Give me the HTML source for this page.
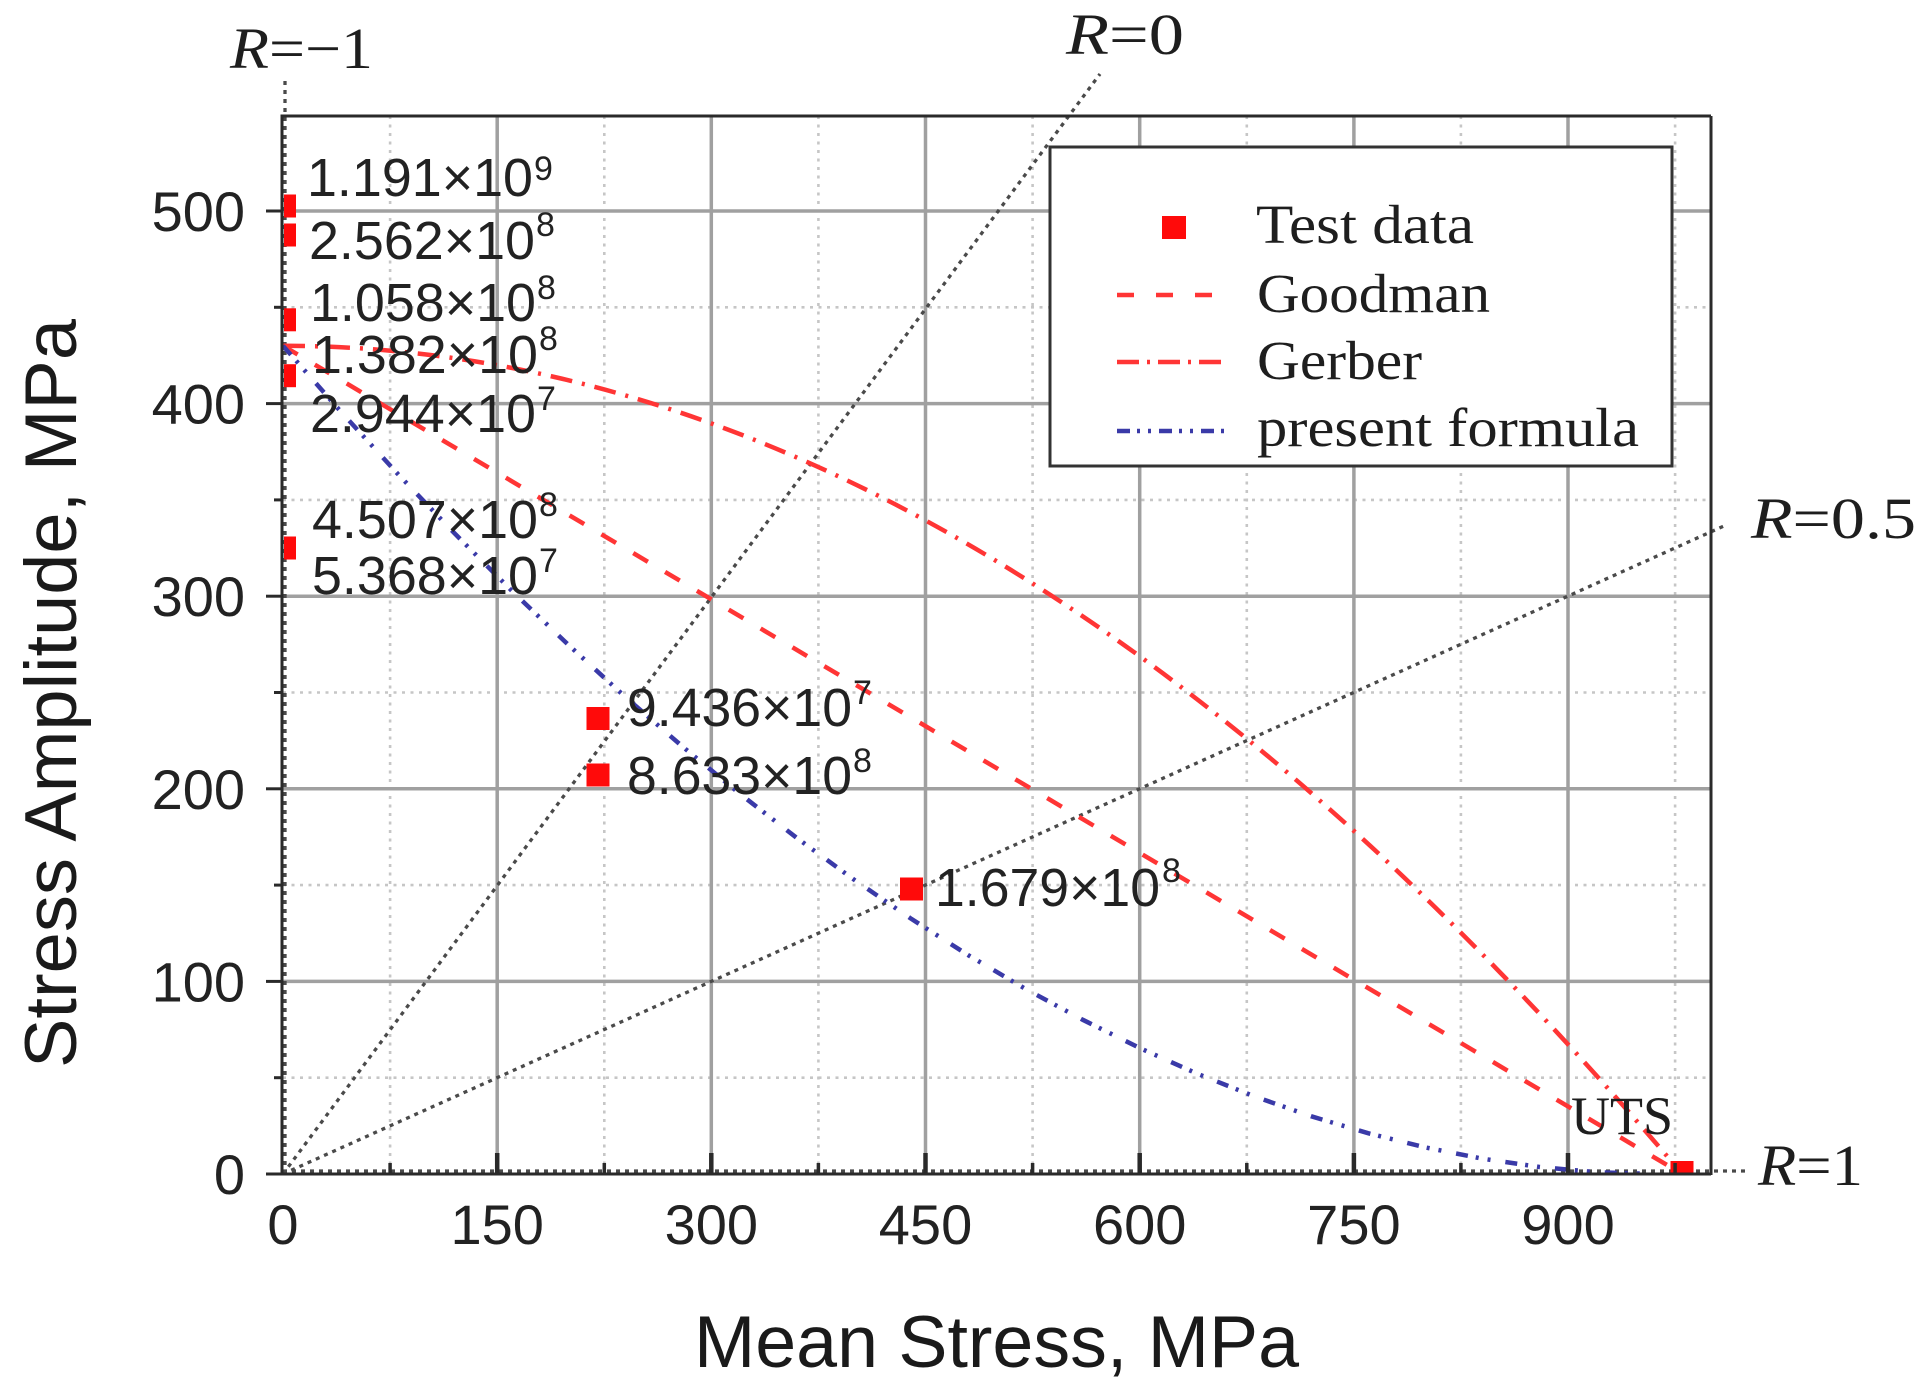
<!DOCTYPE html>
<html>
<head>
<meta charset="utf-8">
<style>
html,body{margin:0;padding:0;background:#fff;}
svg{display:block;}
</style>
</head>
<body>
<svg width="1931" height="1397" viewBox="0 0 1931 1397" xmlns="http://www.w3.org/2000/svg">
<rect width="1931" height="1397" fill="#fff"/>
<defs>
<clipPath id="pa"><rect x="283" y="116" width="1428" height="1058"/></clipPath>
</defs>

<!-- minor grid -->
<g stroke="#c6c6c6" stroke-width="2.6" stroke-dasharray="3 5.5" fill="none">
<line x1="390.1" y1="116" x2="390.1" y2="1174"/>
<line x1="604.3" y1="116" x2="604.3" y2="1174"/>
<line x1="818.4" y1="116" x2="818.4" y2="1174"/>
<line x1="1032.6" y1="116" x2="1032.6" y2="1174"/>
<line x1="1246.8" y1="116" x2="1246.8" y2="1174"/>
<line x1="1460.9" y1="116" x2="1460.9" y2="1174"/>
<line x1="1675.1" y1="116" x2="1675.1" y2="1174"/>
<line x1="283" y1="1077.7" x2="1711" y2="1077.7"/>
<line x1="283" y1="885.1" x2="1711" y2="885.1"/>
<line x1="283" y1="692.5" x2="1711" y2="692.5"/>
<line x1="283" y1="499.9" x2="1711" y2="499.9"/>
<line x1="283" y1="307.3" x2="1711" y2="307.3"/>
</g>
<!-- major grid -->
<g stroke="#a0a0a0" stroke-width="3.5" fill="none">
<line x1="497.2" y1="116" x2="497.2" y2="1174"/>
<line x1="711.3" y1="116" x2="711.3" y2="1174"/>
<line x1="925.5" y1="116" x2="925.5" y2="1174"/>
<line x1="1139.7" y1="116" x2="1139.7" y2="1174"/>
<line x1="1353.9" y1="116" x2="1353.9" y2="1174"/>
<line x1="1568" y1="116" x2="1568" y2="1174"/>
<line x1="283" y1="981.4" x2="1711" y2="981.4"/>
<line x1="283" y1="788.8" x2="1711" y2="788.8"/>
<line x1="283" y1="596.2" x2="1711" y2="596.2"/>
<line x1="283" y1="403.6" x2="1711" y2="403.6"/>
<line x1="283" y1="211" x2="1711" y2="211"/>
</g>

<!-- R lines -->
<g stroke="#4a4a4a" stroke-width="3.3" stroke-dasharray="4 5" fill="none">
<line x1="283" y1="1174" x2="1100" y2="74"/>
<line x1="283" y1="1174" x2="1725" y2="525.5"/>
<line x1="283" y1="1171" x2="1745" y2="1171"/>
<line x1="285" y1="1174" x2="285" y2="76"/>
</g>

<!-- curves -->
<g clip-path="url(#pa)" fill="none" stroke-width="4.5">
<path d="M283,345.8 Q982.6,345.8 1682.2,1174" stroke="#ff3535" stroke-dasharray="22 10 3 10"/>
<line x1="283" y1="345.8" x2="1682.2" y2="1174" stroke="#ff3535" stroke-dasharray="17 20"/>
<polyline stroke="#3a3aa8" stroke-dasharray="12 8 3 9 3 15" points="283,345.8 340.1,410.8 397.2,473.3 454.3,533.1 511.4,590.4 568.6,645.1 625.7,697.3 682.8,746.8 739.9,793.8 797,838.1 854.1,879.7 911.2,918.8 968.3,955.2 1025.5,988.9 1082.6,1019.7 1139.7,1048 1196.8,1073.5 1253.9,1096.2 1311,1116.2 1368.1,1133.2 1425.2,1147.4 1482.4,1158.7 1539.5,1167 1596.6,1172.2 1653.7,1174"/>
</g>

<!-- data points -->
<g fill="#ff0a0a">
<rect x="284" y="194.5" width="12" height="23"/>
<rect x="284" y="223.5" width="12" height="23"/>
<rect x="284" y="308.3" width="12" height="23"/>
<rect x="284" y="364.2" width="12" height="23"/>
<rect x="284" y="536.5" width="12" height="23"/>
<rect x="586.5" y="707" width="23" height="23"/>
<rect x="586.5" y="763.5" width="23" height="23"/>
<rect x="900" y="877.5" width="23" height="23"/>
<rect x="1670.5" y="1161" width="23" height="14"/>
</g>

<!-- frame & axes -->
<g stroke="#2a2a2a" stroke-width="3" fill="none">
<line x1="282" y1="116" x2="1711" y2="116"/>
<line x1="1711" y1="116" x2="1711" y2="1175"/>
<line x1="282" y1="114.5" x2="282" y2="1175"/>
<line x1="266" y1="1174" x2="1711" y2="1174"/>
<!-- y ticks -->
<line x1="266" y1="981.4" x2="282" y2="981.4"/>
<line x1="266" y1="788.8" x2="282" y2="788.8"/>
<line x1="266" y1="596.2" x2="282" y2="596.2"/>
<line x1="266" y1="403.6" x2="282" y2="403.6"/>
<line x1="266" y1="211" x2="282" y2="211"/>
<line x1="274" y1="1077.7" x2="282" y2="1077.7"/>
<line x1="274" y1="885.1" x2="282" y2="885.1"/>
<line x1="274" y1="692.5" x2="282" y2="692.5"/>
<line x1="274" y1="499.9" x2="282" y2="499.9"/>
<line x1="274" y1="307.3" x2="282" y2="307.3"/>
</g>
<g stroke="#2a2a2a" stroke-width="4.5" fill="none">
<line x1="497.2" y1="1174" x2="497.2" y2="1153"/>
<line x1="711.3" y1="1174" x2="711.3" y2="1153"/>
<line x1="925.5" y1="1174" x2="925.5" y2="1153"/>
<line x1="1139.7" y1="1174" x2="1139.7" y2="1153"/>
<line x1="1353.9" y1="1174" x2="1353.9" y2="1153"/>
<line x1="1568" y1="1174" x2="1568" y2="1153"/>
</g>
<g stroke="#2a2a2a" stroke-width="3.5" fill="none">
<line x1="390.1" y1="1174" x2="390.1" y2="1163"/>
<line x1="604.3" y1="1174" x2="604.3" y2="1163"/>
<line x1="818.4" y1="1174" x2="818.4" y2="1163"/>
<line x1="1032.6" y1="1174" x2="1032.6" y2="1163"/>
<line x1="1246.8" y1="1174" x2="1246.8" y2="1163"/>
<line x1="1460.9" y1="1174" x2="1460.9" y2="1163"/>
<line x1="1675.1" y1="1174" x2="1675.1" y2="1163"/>
</g>

<!-- legend -->
<rect x="1050" y="147" width="622" height="319" fill="#fff" stroke="#333" stroke-width="3"/>
<rect x="1162" y="216" width="24" height="23" fill="#ff0a0a"/>
<line x1="1117" y1="295" x2="1229" y2="295" stroke="#ff3535" stroke-width="4.5" stroke-dasharray="17 22"/>
<line x1="1117" y1="362" x2="1229" y2="362" stroke="#ff3535" stroke-width="4.5" stroke-dasharray="22 8 3 8"/>
<line x1="1117" y1="431" x2="1229" y2="431" stroke="#3a3aa8" stroke-width="4.5" stroke-dasharray="13 7 3 8 3 8"/>
<g font-family="'Liberation Serif', serif" font-size="55" fill="#1e1e1e">
<text x="1256" y="243" textLength="218" lengthAdjust="spacingAndGlyphs">Test data</text>
<text x="1257" y="312" textLength="233" lengthAdjust="spacingAndGlyphs">Goodman</text>
<text x="1257" y="379" textLength="165" lengthAdjust="spacingAndGlyphs">Gerber</text>
<text x="1257" y="446" textLength="382" lengthAdjust="spacingAndGlyphs">present formula</text>
</g>

<!-- R labels -->
<g font-family="'Liberation Serif', serif" font-size="58" fill="#1e1e1e">
<text x="230" y="68" textLength="143" lengthAdjust="spacingAndGlyphs"><tspan font-style="italic">R</tspan>=−1</text>
<text x="1066" y="54" textLength="118" lengthAdjust="spacingAndGlyphs"><tspan font-style="italic">R</tspan>=0</text>
<text x="1751" y="538" textLength="165" lengthAdjust="spacingAndGlyphs"><tspan font-style="italic">R</tspan>=0.5</text>
<text x="1758" y="1185" textLength="105" lengthAdjust="spacingAndGlyphs"><tspan font-style="italic">R</tspan>=1</text>
<text x="1571" y="1134" font-size="54" textLength="102" lengthAdjust="spacingAndGlyphs">UTS</text>
</g>

<!-- annotations -->
<g font-family="'Liberation Sans', sans-serif" font-size="54" fill="#222">
<text x="307" y="196" textLength="226" lengthAdjust="spacingAndGlyphs">1.191×10</text>
<text x="309" y="259" textLength="226" lengthAdjust="spacingAndGlyphs">2.562×10</text>
<text x="310" y="321" textLength="226" lengthAdjust="spacingAndGlyphs">1.058×10</text>
<text x="312" y="373" textLength="226" lengthAdjust="spacingAndGlyphs">1.382×10</text>
<text x="310" y="432" textLength="226" lengthAdjust="spacingAndGlyphs">2.944×10</text>
<text x="312" y="538" textLength="226" lengthAdjust="spacingAndGlyphs">4.507×10</text>
<text x="312" y="594" textLength="226" lengthAdjust="spacingAndGlyphs">5.368×10</text>
<text x="627" y="726" textLength="225" lengthAdjust="spacingAndGlyphs">9.436×10</text>
<text x="627" y="794" textLength="225" lengthAdjust="spacingAndGlyphs">8.633×10</text>
<text x="935" y="906" textLength="225" lengthAdjust="spacingAndGlyphs">1.679×10</text>
</g>
<g font-family="'Liberation Sans', sans-serif" font-size="34" fill="#222">
<text x="534" y="180">9</text>
<text x="536" y="236">8</text>
<text x="537" y="299">8</text>
<text x="539" y="350">8</text>
<text x="537" y="410">7</text>
<text x="539" y="516">8</text>
<text x="539" y="572">7</text>
<text x="853" y="704">7</text>
<text x="853" y="772">8</text>
<text x="1162" y="882">8</text>
</g>

<!-- tick labels -->
<g font-family="'Liberation Sans', sans-serif" font-size="56" fill="#222" text-anchor="end">
<text x="245" y="1194">0</text>
<text x="245" y="1001.4">100</text>
<text x="245" y="808.8">200</text>
<text x="245" y="616.2">300</text>
<text x="245" y="423.6">400</text>
<text x="245" y="231">500</text>
</g>
<g font-family="'Liberation Sans', sans-serif" font-size="56" fill="#222" text-anchor="middle">
<text x="283" y="1244">0</text>
<text x="497.2" y="1244">150</text>
<text x="711.3" y="1244">300</text>
<text x="925.5" y="1244">450</text>
<text x="1139.7" y="1244">600</text>
<text x="1353.9" y="1244">750</text>
<text x="1568" y="1244">900</text>
</g>

<!-- axis titles -->
<text x="996.5" y="1367" font-family="'Liberation Sans', sans-serif" font-size="73" fill="#1a1a1a" text-anchor="middle" textLength="605" lengthAdjust="spacingAndGlyphs">Mean Stress, MPa</text>
<text x="0" y="0" transform="translate(76 693.5) rotate(-90)" font-family="'Liberation Sans', sans-serif" font-size="73" fill="#1a1a1a" text-anchor="middle" textLength="749" lengthAdjust="spacingAndGlyphs">Stress Amplitude, MPa</text>
</svg>
</body>
</html>
